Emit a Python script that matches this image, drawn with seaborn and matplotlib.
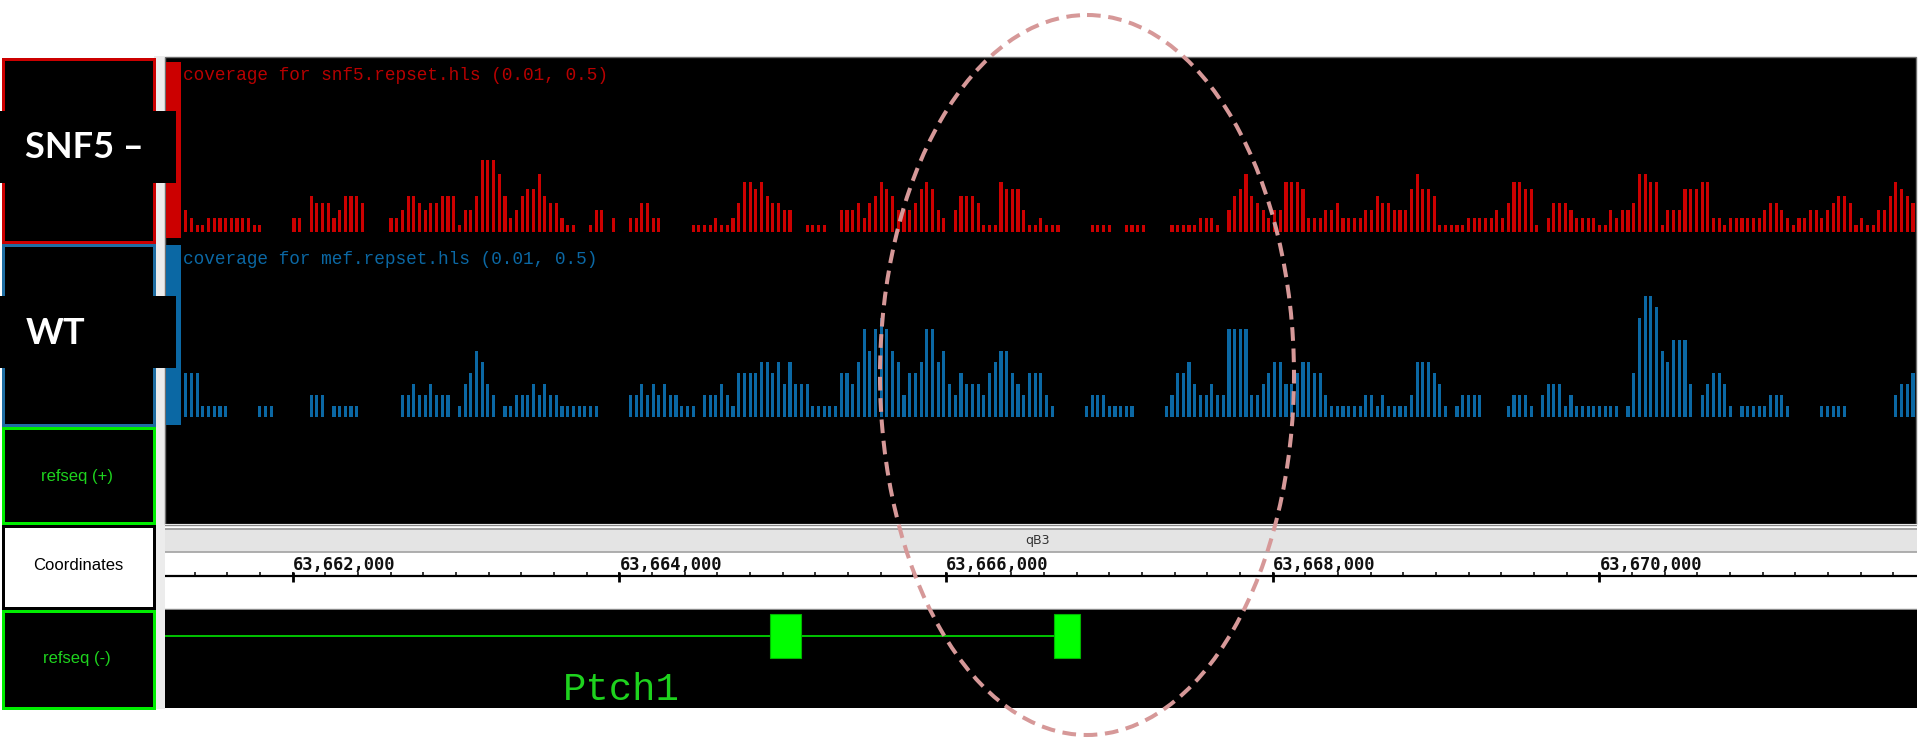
import numpy as np
import pandas as pd
import matplotlib
matplotlib.use("Agg")
import matplotlib.pyplot as plt
from matplotlib.patches import Rectangle, Ellipse
import seaborn as sns

# ---------------------------------------------------------------- data
VIEW_START = 63661218      # left edge of the browser window (bp)
VIEW_END = 63671944        # right edge of the browser window (bp)
BIN_START = 63661345       # centre of the first coverage bin (bp)
BIN_SIZE = 34.9            # coverage bin size (bp)

# binned hotspot coverage, SNF5-deleted cells
SNF5_COV = [
    3, 2, 1, 1, 2, 2, 2, 2, 2, 2, 2, 2, 1, 1,
    0, 0, 0, 0, 0,
    2, 2, 0, 5, 4, 4, 4, 2, 3, 5, 5, 5, 4,
    0, 0, 0, 0,
    2, 2, 3, 5, 5, 4, 3, 4, 4, 5, 5, 5, 1, 3, 3, 5, 10, 10, 10, 8, 5, 2, 3, 5, 6, 6, 8, 5, 4, 4, 2, 1, 1,
    0, 0, 1, 3, 3, 0, 2, 0, 0, 2, 2, 4, 4, 2, 2,
    0, 0, 0, 0, 0,
    1, 1, 1, 1, 2, 1, 1, 2, 4, 7, 7, 6, 7, 5, 4, 4, 3, 3,
    0, 0, 1, 1, 1, 1, 0, 0,
    3, 3, 3, 4, 2, 4, 5, 7, 6, 5, 3, 3, 3, 4, 6, 7, 6, 3, 2, 0,
    3, 5, 5, 5, 4, 1, 1, 1, 7, 6, 6, 6, 3, 1, 1, 2, 1, 1, 1,
    0, 0, 0, 0, 0, 1, 1, 1, 1, 0, 0, 1, 1, 1, 1, 0, 0, 0, 0,
    1, 1, 1, 1, 1, 2, 2, 2, 1, 0,
    3, 5, 6, 8, 5, 4, 3, 2, 3, 3, 7, 7, 7, 6, 2, 2,
    2, 3, 3, 4, 2, 2, 2, 2, 3, 3, 5, 4, 4, 3, 3, 3, 6, 8, 6, 6, 5,
    1, 1, 1, 1, 1, 2, 2, 2, 2, 2, 3, 2, 4, 7, 7, 6, 6, 1, 0,
    2, 4, 4, 4, 3, 2, 2, 2, 2, 1, 1, 3, 2, 3, 3, 4, 8, 8, 7, 7,
    1, 3, 3, 3, 6, 6, 6, 7, 7, 2, 2, 1, 2, 2, 2, 2, 2, 2, 3, 4, 4, 3, 2, 1,
    2, 2, 3, 3, 2, 3, 4, 5, 5, 4, 1, 2, 1, 1, 3, 3, 5, 7, 6, 5, 4,
]

# binned hotspot coverage, wild-type MEFs
MEF_COV = [
    4, 4, 4, 1, 1, 1, 1, 1,
    0, 0, 0, 0, 0,
    1, 1, 1,
    0, 0, 0, 0, 0, 0,
    2, 2, 2, 0, 1, 1, 1, 1, 1,
    0, 0, 0, 0, 0, 0, 0,
    2, 2, 3, 2, 2, 3, 2, 2, 2, 0,
    1, 3, 4, 6, 5, 3, 2, 0,
    1, 1, 2, 2, 2, 3, 2, 3, 2, 2, 1, 1, 1, 1, 1, 1, 1,
    0, 0, 0, 0, 0,
    2, 2, 3, 2, 3, 2, 3, 2, 2, 1, 1, 1, 0,
    2, 2, 2, 3, 2, 1, 4, 4, 4, 4, 5, 5, 4, 5, 3, 5, 3, 3, 3, 1, 1, 1, 1, 1,
    4, 4, 3, 5, 8, 6, 8, 9, 8, 6, 5, 2, 4, 4, 5, 8, 8, 5, 6, 3, 2, 4, 3, 3,
    3, 2, 4, 5, 6, 6, 4, 3, 2, 4, 4, 4, 2, 1,
    0, 0, 0, 0, 0,
    1, 2, 2, 2, 1, 1, 1, 1, 1,
    0, 0, 0, 0, 0,
    1, 2, 4, 4, 5, 3, 2, 2, 3, 2, 2, 8, 8, 8, 8, 2, 2, 3, 4, 5, 5, 3, 3, 4, 5, 5, 4, 4,
    2, 1, 1, 1, 1, 1, 1, 2, 2, 1, 2, 1, 1, 1, 1, 2, 5, 5, 5, 4, 3, 1,
    0, 1, 2, 2, 2, 2, 0, 0, 0, 0,
    1, 2, 2, 2, 1, 0,
    2, 3, 3, 3, 1, 2, 1, 1, 1, 1, 1, 1, 1, 1, 0,
    1, 4, 9, 11, 11, 10, 6, 5, 7, 7, 7, 3, 0,
    2, 3, 4, 4, 3, 1, 0,
    1, 1, 1, 1, 1, 2, 2, 2, 1,
    0, 0, 0, 0, 0,
    1, 1, 1, 1, 1,
    0, 0, 0, 0, 0, 0, 0, 0,
    2, 3, 3, 4,
]

TRACK_TITLES = ["coverage for snf5.repset.hls (0.01, 0.5)",
                "coverage for mef.repset.hls (0.01, 0.5)"]
SAMPLE_LABELS = ["SNF5 \u2013", "WT"]
ROW_LABELS = ["refseq (+)", "Coordinates", "refseq (-)"]
RULER_MAJOR = [63662000, 63664000, 63666000, 63668000, 63670000]
RULER_MINOR_STEP = 200
CYTOBAND = "qB3"
CYTOBAND_CENTER = 63666560
GENE_NAME = "Ptch1"
GENE_NAME_POS = 63664011
GENE_SPAN = (63660000, 63666817)
EXONS = [(63664924, 63665114), (63666658, 63666817)]

# ---------------------------------------------------------------- style
RED = "#cc0000"
RED_TEXT = "#b80000"
BLUE = "#0b68a4"
BLUE_BORDER = "#1f6ea3"
GREEN = "#00ee00"
GREEN_TEXT = "#1ed21e"
ELLIPSE_COLOR = "#d69898"

W, H = 1920, 743
fig = plt.figure(figsize=(W / 100, H / 100), dpi=100)
fig.patch.set_facecolor("white")


def px_axes(x0, y0, x1, y1, z=1):
    """Axes placed by pixel box (y measured from the top)."""
    return fig.add_axes([x0 / W, 1 - y1 / H, (x1 - x0) / W, (y1 - y0) / H], zorder=z)


def bare(ax, face):
    ax.set_xticks([])
    ax.set_yticks([])
    ax.set_xlabel("")
    ax.set_ylabel("")
    for s in ax.spines.values():
        s.set_visible(False)
    ax.set_facecolor(face)


def box(ax, x0, y0, x1, y1, fc, ec="none", lw_px=0, z=1):
    inset = lw_px / 2
    ax.add_patch(Rectangle((x0 + inset, y0 + inset), x1 - x0 - 2 * inset, y1 - y0 - 2 * inset,
                           facecolor=fc, edgecolor=ec, linewidth=lw_px * 0.72, zorder=z))


# ---------------------------------------------------------------- background frame
bg = px_axes(0, 0, W, H, z=0)
bg.set_xlim(0, W)
bg.set_ylim(H, 0)
bg.axis("off")

PANEL_L, PANEL_R = 165, 1917
box(bg, 154, 56, PANEL_L, 709, "#ececec", z=1)
box(bg, PANEL_L - 1, 56, PANEL_R, 525, "black", ec="#6e6e6e", lw_px=1.4, z=1)

# left-hand name panels
box(bg, 1, 57, 155, 243, "black", ec=RED, lw_px=3, z=2)
box(bg, 1, 243, 155, 426, "black", ec=BLUE_BORDER, lw_px=3, z=2)
box(bg, 1, 426, 155, 524, "black", ec=GREEN, lw_px=3, z=2)
box(bg, 1, 524, 155, 609, "white", ec="black", lw_px=3, z=2)
box(bg, 1, 609, 155, 709, "black", ec=GREEN, lw_px=3, z=2)

label_font = ["Liberation Sans Narrow", "Liberation Sans", "DejaVu Sans"]
bg.text(77, 476, ROW_LABELS[0], color=GREEN_TEXT, fontsize=12, family=label_font,
        ha="center", va="center", zorder=3)
bg.text(78, 566, ROW_LABELS[1], color="black", fontsize=12, family=label_font,
        ha="center", va="center", zorder=3)
bg.text(77, 659, ROW_LABELS[2], color=GREEN_TEXT, fontsize=12, family=label_font,
        ha="center", va="center", zorder=3)

# track colour strips
box(bg, 166, 62, 181, 238, RED, z=3)
box(bg, 166, 245, 181, 425, BLUE, z=3)

# sample tags laid over the name panels
box(bg, 0, 111, 176, 183, "black", z=4)
box(bg, 0, 296, 176, 368, "black", z=4)
bg.text(25, 148, SAMPLE_LABELS[0], color="white", family=["Lato", "DejaVu Sans"],
        fontweight="bold", fontsize=26, ha="left", va="center", zorder=5)
bg.text(26, 333, SAMPLE_LABELS[1], color="white", family=["Lato", "DejaVu Sans"],
        fontweight="bold", fontsize=26, ha="left", va="center", zorder=5)

# track titles
bg.text(183, 75, TRACK_TITLES[0], color=RED_TEXT, family="Liberation Mono",
        fontsize=12.8, ha="left", va="center", zorder=3)
bg.text(183, 260, TRACK_TITLES[1], color=BLUE, family="Liberation Mono",
        fontsize=12.8, ha="left", va="center", zorder=3)

# ---------------------------------------------------------------- coverage tracks
pos = BIN_START + BIN_SIZE * np.arange(len(SNF5_COV))
cov = pd.DataFrame({"pos": pos, "snf5": SNF5_COV, "mef": MEF_COV})

RED_PX_PER_UNIT = 7.2
BLUE_PX_PER_UNIT = 11.0

ax_red = px_axes(PANEL_L, 58, PANEL_R, 241, z=2)
sns.barplot(data=cov[cov["snf5"] > 0], x="pos", y="snf5", native_scale=True,
            color=RED, saturation=1, width=0.55, errorbar=None, linewidth=0, ax=ax_red)
ax_red.set_xlim(VIEW_START, VIEW_END)
ax_red.set_ylim(-9 / RED_PX_PER_UNIT, (232 - 58) / RED_PX_PER_UNIT)
bare(ax_red, "none")

ax_blue = px_axes(PANEL_L, 243, PANEL_R, 425, z=2)
sns.barplot(data=cov[cov["mef"] > 0], x="pos", y="mef", native_scale=True,
            color=BLUE, saturation=1, width=0.55, errorbar=None, linewidth=0, ax=ax_blue)
ax_blue.set_xlim(VIEW_START, VIEW_END)
ax_blue.set_ylim(-8 / BLUE_PX_PER_UNIT, (417 - 243) / BLUE_PX_PER_UNIT)
bare(ax_blue, "none")

# ---------------------------------------------------------------- coordinate ruler
ax_coord = px_axes(PANEL_L, 524, PANEL_R, 610, z=2)
bare(ax_coord, "white")
ax_coord.set_xlim(VIEW_START, VIEW_END)
ax_coord.set_ylim(610, 524)
ax_coord.axhspan(528.5, 551.5, color="#e4e4e4", lw=0)
ax_coord.axhline(528.5, color="#9c9c9c", lw=1.3)
ax_coord.axhline(551.5, color="#a8a8a8", lw=1.3)
ax_coord.axhline(524.5, color="#8a8a8a", lw=1.0)
ax_coord.axhline(609.3, color="#8a8a8a", lw=1.0)
ax_coord.text(CYTOBAND_CENTER, 540.5, CYTOBAND, color="#333333", fontsize=9,
              family="DejaVu Sans", ha="center", va="center")
ax_coord.axhline(576, color="black", lw=1.6)
minor = np.arange(np.ceil(VIEW_START / RULER_MINOR_STEP) * RULER_MINOR_STEP, VIEW_END, RULER_MINOR_STEP)
ax_coord.vlines(minor, 572.3, 576, color="black", lw=1.1)
ax_coord.vlines(RULER_MAJOR, 571.5, 581.5, color="black", lw=2.0)
for m in RULER_MAJOR:
    ax_coord.text(m, 569.5, f"{m:,}", family="DejaVu Sans Mono", fontweight="bold",
                  fontsize=12.3, color="#111111", ha="left", va="baseline")

# ---------------------------------------------------------------- gene track
ax_gene = px_axes(PANEL_L, 610, PANEL_R, 708, z=2)
bare(ax_gene, "black")
ax_gene.set_xlim(VIEW_START, VIEW_END)
ax_gene.set_ylim(708, 610)
ax_gene.hlines(636, GENE_SPAN[0], GENE_SPAN[1], color="#00c400", lw=1.4)
for s, e in EXONS:
    ax_gene.add_patch(Rectangle((s, 614), e - s, 44, facecolor="#00ff00",
                                edgecolor="#00b400", linewidth=0.8, zorder=3))
ax_gene.text(GENE_NAME_POS, 690, GENE_NAME, color=GREEN_TEXT, family="Liberation Mono",
             fontsize=28, ha="center", va="center")

# ---------------------------------------------------------------- highlight ring
ov = px_axes(0, 0, W, H, z=10)
ov.set_xlim(0, W)
ov.set_ylim(H, 0)
ov.axis("off")
ov.add_patch(Ellipse((1087, 375), 414, 720, fill=False, edgecolor=ELLIPSE_COLOR,
                     linewidth=2.9, linestyle=(0, (3.4, 1.9))))

fig.savefig("out.png", dpi=100)
